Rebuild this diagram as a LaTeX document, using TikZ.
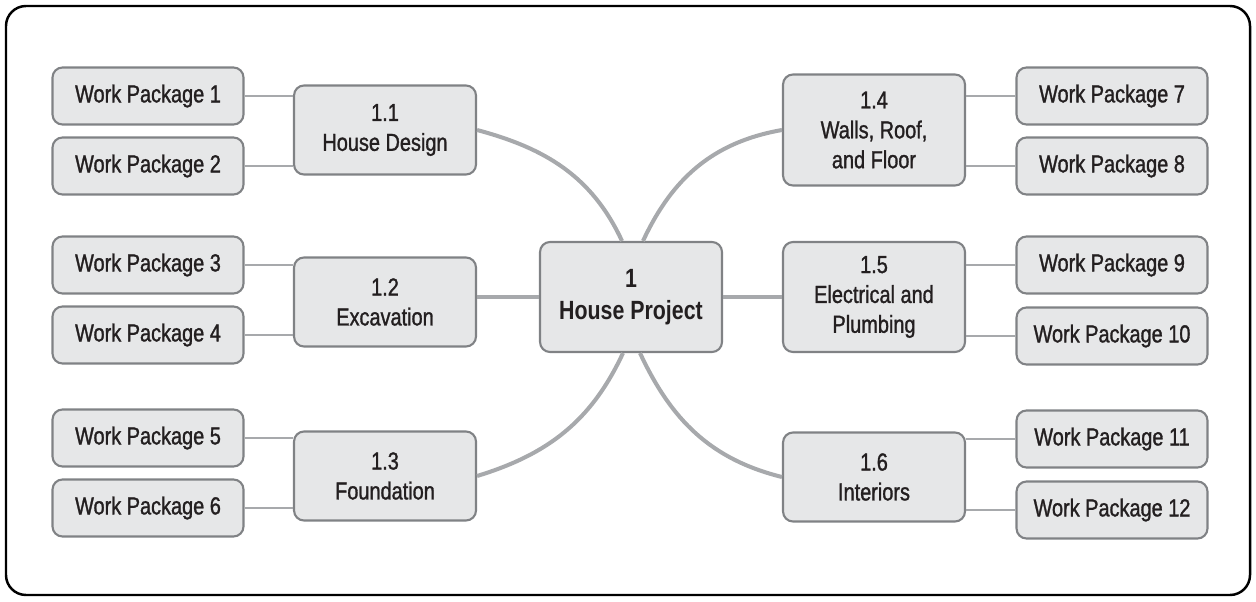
\documentclass[tikz,border=0pt]{standalone}
\usepackage{fontspec}
\setmainfont{Liberation Sans}[FakeStretch=0.81, UprightFeatures={FakeBold=1.2}]
\definecolor{boxfill}{HTML}{E6E7E8}
\definecolor{boxline}{HTML}{808285}
\definecolor{linkgray}{HTML}{A7A9AC}
\definecolor{inkblack}{HTML}{231F20}

\begin{document}
\begin{tikzpicture}[x=0.02cm, y=-0.02cm,
      every node/.style={draw=boxline, line width=1.2pt, fill=boxfill,
        rounded corners=0.2cm, align=center, text=inkblack, inner sep=0pt,
        font=\fontsize{14}{17}\selectfont},
      package/.style={minimum width=3.82cm, minimum height=1.14cm},
      task/.style={minimum width=3.64cm, minimum height=1.78cm},
      root/.style={minimum width=3.64cm, minimum height=2.2cm,
        font=\bfseries\fontsize{15}{18}\selectfont},
      twig/.style={draw=linkgray, line width=0.9pt},
      branch/.style={draw=linkgray, line width=2.3pt}]
  %.
  \useasboundingbox (0,0) rectangle (1256,601);
  \draw[black, line width=1.4pt, rounded corners=0.4cm] (6,6) rectangle (1250,595);
  %.
  \node[root] (house) at (631,297) {1\\House Project};
  \node[task] (design) at (385,130) {1.1\\House Design};
  \node[task] (excav)  at (385,302) {1.2\\Excavation};
  \node[task] (found)  at (385,476) {1.3\\Foundation};
  \node[task, minimum height=2.22cm] (walls) at (874,130) {1.4\\Walls, Roof,\\and Floor};
  \node[task, minimum height=2.2cm]  (elec)  at (874,297) {1.5\\Electrical and\\Plumbing};
  \node[task] (inter)  at (874,477) {1.6\\Interiors};
  %.
  \node[package] (wp1)  at (148,96)   {Work Package 1};
  \node[package] (wp2)  at (148,166)  {Work Package 2};
  \node[package] (wp3)  at (148,265)  {Work Package 3};
  \node[package] (wp4)  at (148,335)  {Work Package 4};
  \node[package] (wp5)  at (148,438)  {Work Package 5};
  \node[package] (wp6)  at (148,508)  {Work Package 6};
  \node[package] (wp7)  at (1112,96)  {Work Package 7};
  \node[package] (wp8)  at (1112,166) {Work Package 8};
  \node[package] (wp9)  at (1112,265) {Work Package 9};
  \node[package] (wp10) at (1112,336) {Work Package 10};
  \node[package] (wp11) at (1112,439) {Work Package 11};
  \node[package] (wp12) at (1112,510) {Work Package 12};
  %.
  \draw[branch] (design.east) to[out=-15, in=115] ([xshift=-0.18cm]house.north);
  \draw[branch] ([xshift=0.24cm]house.north) to[out=65, in=190] (walls.west);
  \draw[branch] ([xshift=-0.16cm]house.south) to[out=-115, in=17] (found.east);
  \draw[branch] ([xshift=0.18cm]house.south) to[out=-65, in=166] (inter.west);
  \draw[branch] (house.west) -- (house.west -| excav.east);
  \draw[branch] (house.east) -- (house.east -| elec.west);
  %.
  \foreach \wp/\tk in {wp1/design, wp2/design, wp3/excav, wp4/excav, wp5/found, wp6/found}
    \draw[twig] (\wp.east) -- (\wp.east -| \tk.west);
  \foreach \wp/\tk in {wp7/walls, wp8/walls, wp9/elec, wp10/elec, wp11/inter, wp12/inter}
    \draw[twig] (\wp.west) -- (\wp.west -| \tk.east);
  %.
\end{tikzpicture}
\end{document}
